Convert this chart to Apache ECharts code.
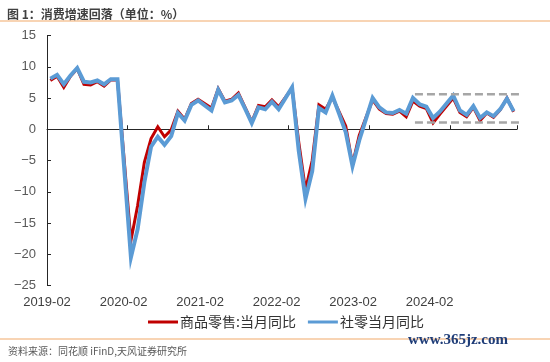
<!DOCTYPE html>
<html><head><meta charset="utf-8">
<script src="https://cdn.jsdelivr.net/npm/echarts@6/dist/echarts.min.js"></script>
<style>html,body{margin:0;padding:0;background:#fff}#c{width:550px;height:362px}</style>
</head><body><div id="c"></div>
<script>
// Monthly categories (January slots empty: Jan–Feb data published together)
const months = [
 '2019-02','2019-03','2019-04','2019-05','2019-06','2019-07','2019-08','2019-09','2019-10','2019-11','2019-12',
 '2020-01','2020-02','2020-03','2020-04','2020-05','2020-06','2020-07','2020-08','2020-09','2020-10','2020-11','2020-12',
 '2021-01','2021-02','2021-03','2021-04','2021-05','2021-06','2021-07','2021-08','2021-09','2021-10','2021-11','2021-12',
 '2022-01','2022-02','2022-03','2022-04','2022-05','2022-06','2022-07','2022-08','2022-09','2022-10','2022-11','2022-12',
 '2023-01','2023-02','2023-03','2023-04','2023-05','2023-06','2023-07','2023-08','2023-09','2023-10','2023-11','2023-12',
 '2024-01','2024-02','2024-03','2024-04','2024-05','2024-06','2024-07','2024-08','2024-09','2024-10','2024-11'
];
// 商品零售:当月同比 (red)
const goodsRetail = [
 7.8, 8.5, 6.7, 8.5, 9.7, 7.2, 7.1, 7.6, 6.9, 7.9, 7.9,
 null, -17.8, -12.2, -5.3, -1.5, 0.4, -1.2, -0.1, 2.9, 1.6, 4.1, 4.8,
 null, 3.4, 6.5, 4.5, 4.8, 5.8, 3.5, 1.2, 3.8, 3.6, 4.7, 3.6,
 null, 6.6, -2.1, -9.7, -5.0, 3.9, 3.2, 5.1, 2.8, 0.5, -5.6, -1.0,
 null, 4.7, 3.2, 2.5, 2.4, 2.9, 2.0, 4.5, 3.7, 3.3, 1.0, 2.4,
 null, 5.0, 2.7, 2.0, 3.5, 1.4, 2.6, 1.9, 3.1, 5.0, 2.8
];
// 社零当月同比 (blue)
const totalRetail = [
 8.1, 8.7, 7.2, 8.6, 9.8, 7.6, 7.5, 7.8, 7.2, 8.0, 8.0,
 null, -20.5, -16.0, -8.5, -2.8, -1.2, -2.5, -1.1, 2.6, 1.4, 3.9, 4.6,
 null, 3.0, 6.3, 4.3, 4.6, 5.5, 3.3, 1.0, 3.5, 3.2, 4.4, 3.2,
 null, 6.7, -3.5, -11.1, -6.7, 3.4, 2.7, 5.4, 2.5, -0.5, -5.9, -1.8,
 null, 5.0, 3.5, 2.7, 2.6, 3.1, 2.5, 5.0, 4.0, 3.6, 1.8, 2.8,
 null, 5.4, 3.0, 2.3, 3.7, 1.8, 2.7, 2.1, 3.2, 4.9, 2.9
];
const seriesNames = ['商品零售:当月同比', '社零当月同比'];
const xTickLabels = ['2019-02','2020-02','2021-02','2022-02','2023-02','2024-02'];
const xLabelStep = 11.4;          // label spacing, in category units
const yTicks = {min: -25, max: 15, interval: 5};
// Reference band (dashed lines), x in category units, y in %
const bandX = [54.8, 70.7];
const bandUpper = 5.6;
const bandLower = 1.1;

const titleText = '图 1：消费增速回落（单位：%）';
const sourceText = '资料来源：同花顺 iFinD,天风证券研究所';
const watermarkText = 'www.365jz.com';

const LAT = '"Liberation Sans", Arial, sans-serif';
const CJK = '"Noto Sans CJK SC", "Noto Sans", sans-serif';

const chart = echarts.init(document.getElementById('c'), null, {renderer: 'canvas'});
const option = {
  backgroundColor: '#ffffff',
  animation: false,
  title: {
    text: titleText, left: 2, top: 3,
    textStyle: {fontSize: 12, fontWeight: 'bold', color: '#404040', fontFamily: CJK}
  },
  graphic: [
    {type: 'line', shape: {x1: 0, y1: 21, x2: 550, y2: 21}, style: {stroke: '#f6c69b', lineWidth: 1.5}},
    {type: 'line', shape: {x1: 0, y1: 339, x2: 550, y2: 339}, style: {stroke: '#f6c69b', lineWidth: 1.5}},
    {type: 'text', left: 8, top: 346, style: {text: sourceText, fill: '#595959', font: '10px ' + CJK}},
    {type: 'text', left: 408, top: 333, style: {text: watermarkText, fill: '#1f3d78', font: 'bold 15px "Liberation Serif", serif'}}
  ],
  legend: {
    data: seriesNames,
    left: 143, top: 310,
    itemWidth: 30, itemHeight: 3, itemGap: 12,
    icon: 'rect',
    textStyle: {fontSize: 14, color: '#333', fontFamily: CJK, padding: [0, 0, 0, -3]}
  },
  grid: {left: 47, right: 33, top: 35.5, bottom: 76.5, containLabel: false},
  xAxis: [
    {
      type: 'category', data: months, boundaryGap: true,
      axisLine: {onZero: true, lineStyle: {color: '#262626', width: 1}},
      axisTick: {show: true, inside: true, length: 4, interval: 11, lineStyle: {color: '#262626'}},
      axisLabel: {show: false},
      splitLine: {show: false}
    },
    {
      type: 'value', position: 'bottom', min: 0, max: months.length, interval: xLabelStep,
      axisLine: {show: false, onZero: false}, axisTick: {show: false}, splitLine: {show: false},
      axisLabel: {
        show: true, margin: 10, fontSize: 13, color: '#404040', fontFamily: LAT,
        showMaxLabel: false,
        formatter: function (v) {
          const k = Math.round(v / xLabelStep);
          if (Math.abs(v - k * xLabelStep) < 0.01 && k < xTickLabels.length) return xTickLabels[k];
          return '';
        }
      }
    }
  ],
  yAxis: {
    type: 'value', min: yTicks.min, max: yTicks.max, interval: yTicks.interval,
    axisLine: {show: true, lineStyle: {color: '#262626', width: 1}},
    axisTick: {show: true, inside: true, length: 4, lineStyle: {color: '#262626'}},
    splitLine: {show: false},
    axisLabel: {
      margin: 11, fontSize: 13, color: '#595959', fontFamily: LAT,
      formatter: function (v) { return v < 0 ? '\u2212' + Math.abs(v) : String(v); }
    }
  },
  series: [
    {
      name: seriesNames[0], type: 'line', data: goodsRetail, connectNulls: true,
      showSymbol: false, symbol: 'none', z: 3,
      lineStyle: {color: '#c00000', width: 3, join: 'miter'}, itemStyle: {color: '#c00000'}
    },
    {
      name: seriesNames[1], type: 'line', data: totalRetail, connectNulls: true,
      showSymbol: false, symbol: 'none', z: 4,
      lineStyle: {color: '#5b9bd5', width: 4, join: 'miter'}, itemStyle: {color: '#5b9bd5'}
    },
    {
      name: 'bandUpper', type: 'line', xAxisIndex: 1, clip: false, symbol: 'none', silent: true, z: 5,
      data: [[bandX[0], bandUpper], [bandX[1], bandUpper]],
      lineStyle: {color: '#a6a6a6', width: 2.5, type: [8, 4]}
    },
    {
      name: 'bandLower', type: 'line', xAxisIndex: 1, clip: false, symbol: 'none', silent: true, z: 5,
      data: [[bandX[0], bandLower], [bandX[1], bandLower]],
      lineStyle: {color: '#a6a6a6', width: 2.5, type: [8, 4]}
    }
  ]
};
chart.setOption(option);
</script></body></html>
